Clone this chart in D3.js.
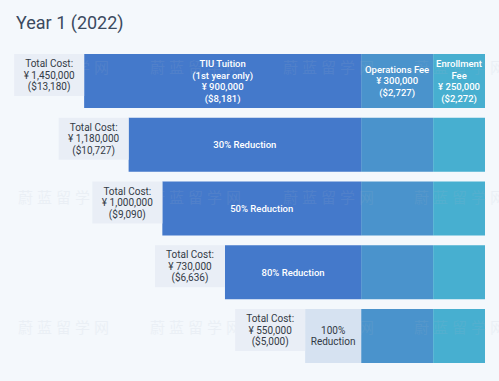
<!DOCTYPE html>
<html>
<head>
<meta charset="utf-8">
<script src="https://cdn.jsdelivr.net/npm/d3@7"></script>
<style>
  html, body { margin: 0; padding: 0; background: #f4f8fc; }
  svg { display: block; font-family: Roboto, "Noto Sans", sans-serif; }
</style>
</head>
<body>
<svg id="chart"></svg>
<script>
// chart data
const title = 'Year 1 (2022)'
const rowKeys = ['full', 'r30', 'r50', 'r80', 'r100']
const tuitionYen = [900000, 630000, 450000, 180000, 0]
const tuitionText = [
  ['TIU Tuition', '(1st year only)', '¥ 900,000', '($8,181)'],
  ['30% Reduction'],
  ['50% Reduction'],
  ['80% Reduction'],
  ['100%', 'Reduction']
]
const totalYen = ['¥ 1,450,000', '¥ 1,180,000', '¥ 1,000,000', '¥ 730,000', '¥ 550,000']
const totalUsd = ['($13,180)', '($10,727)', '($9,090)', '($6,636)', '($5,000)']
const feeNames = ['Operations Fee', 'Enrollment Fee']
const feeYen = [300000, 250000]
const feeText = [
  ['Operations Fee', '¥ 300,000', '($2,727)'],
  ['Enrollment', 'Fee', '¥ 250,000', '($2,272)']
]
const watermark = '蔚蓝留学网'

const width = 499
const height = 381
const rightEdge = 485
const labelW = 70
const labelH = 42

const svg = d3.select('#chart')
  .attr('width', width)
  .attr('height', height)

svg.append('rect')
  .attr('width', width)
  .attr('height', height)
  .attr('fill', '#f4f8fc')

svg.append('text')
  .attr('x', 16)
  .attr('y', 29)
  .attr('fill', '#3b4a60')
  .style('font-size', '18px')
  .text(title)

// scales
const yScale = d3.scaleBand()
  .domain(rowKeys)
  .range([54, 363])
  .paddingInner(0.153)
const tuitionScale = d3.scalePow()
  .exponent(0.63)
  .domain([0, d3.max(tuitionYen)])
  .range([56, 277])
const feeScale = d3.scalePow()
  .exponent(1.8)
  .domain([0, d3.max(feeYen)])
  .range([0, 72])
const feeColor = d3.scaleOrdinal().domain(feeNames).range(['#4a93cc', '#47afd0'])

// fee segments, stacked from the right edge
const feeW = feeYen.map(v => feeScale(v))
const feeX = feeW.map((w, i) => rightEdge - d3.sum(feeW.slice(i)))
const tuitionEnd = feeX[0]

const rows = rowKeys.map((k, i) => ({
  key: k,
  i: i,
  y: yScale(k),
  w: tuitionScale(tuitionYen[i]),
  x0: tuitionEnd - tuitionScale(tuitionYen[i])
}))
const bh = yScale.bandwidth()

// fee bars
rows.forEach(r => {
  svg.selectAll(null)
    .data(feeNames)
    .enter()
    .append('rect')
    .attr('x', (d, j) => feeX[j])
    .attr('y', r.y)
    .attr('width', (d, j) => feeW[j])
    .attr('height', bh)
    .attr('fill', d => feeColor(d))
})

// tuition bars
svg.selectAll('.tuition')
  .data(rows.filter(r => tuitionYen[r.i] > 0))
  .enter()
  .append('rect')
  .attr('class', 'tuition')
  .attr('x', r => r.x0)
  .attr('y', r => r.y)
  .attr('width', r => r.w)
  .attr('height', bh)
  .attr('fill', '#4479cb')

// faint watermark
const wm = svg.append('g').attr('opacity', 0.12)
;[67, 197, 327].forEach(y => {
  [18, 150, 283, 414].forEach(x => {
    wm.append('text')
      .attr('x', x)
      .attr('y', y + 6)
      .attr('fill', '#a9b6c8')
      .style('font-family', '"Noto Sans CJK SC"')
      .style('font-size', '15px')
      .style('letter-spacing', '4px')
      .text(watermark)
  })
})

// 100% reduction box
svg.selectAll('.zero')
  .data(rows.filter(r => tuitionYen[r.i] === 0))
  .enter()
  .append('rect')
  .attr('x', r => r.x0)
  .attr('y', r => r.y)
  .attr('width', r => r.w)
  .attr('height', bh)
  .attr('fill', '#d6e2f1')

// total cost label boxes
svg.selectAll('.label-box')
  .data(rows)
  .enter()
  .append('rect')
  .attr('x', r => r.x0 - labelW)
  .attr('y', r => r.y)
  .attr('width', labelW)
  .attr('height', labelH)
  .attr('fill', '#e9eef6')

function lines (sel, cx, cy, arr, lh) {
  const t = sel.append('text')
    .attr('text-anchor', 'middle')
  arr.forEach((s, k) => {
    t.append('tspan')
      .attr('x', cx)
      .attr('y', cy + (k - (arr.length - 1) / 2) * lh)
      .attr('dy', '0.35em')
      .text(s)
  })
  return t
}

rows.forEach(r => {
  lines(svg, r.x0 - labelW / 2, r.y + labelH / 2, ['Total Cost:', totalYen[r.i], totalUsd[r.i]], 11.5)
    .attr('fill', '#333a45')
    .style('font-size', '10px')

  const zero = tuitionYen[r.i] === 0
  lines(svg, r.x0 + r.w / 2, r.y + bh / 2, tuitionText[r.i], 11.5)
    .attr('fill', zero ? '#333a45' : '#fff')
    .style('font-size', zero ? '10px' : '9.5px')
    .style('font-weight', zero ? 400 : 500)

  if (r.i === 0) {
    feeText.forEach((arr, j) => {
      lines(svg, feeX[j] + feeW[j] / 2, r.y + bh / 2, arr, 11.5)
        .attr('fill', '#fff')
        .style('font-size', '9.5px')
        .style('font-weight', 500)
    })
  }
})
</script>
</body>
</html>
